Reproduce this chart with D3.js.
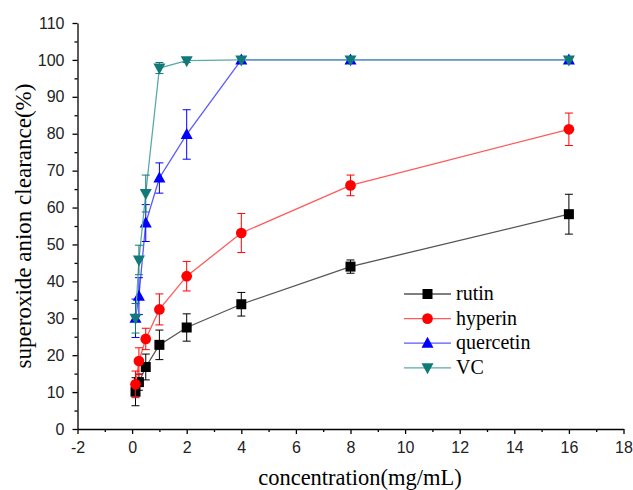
<!DOCTYPE html>
<html lang="en">
<head>
<meta charset="utf-8">
<title>Superoxide anion clearance</title>
<script src="https://cdn.jsdelivr.net/npm/d3@7"></script>
<style>
  body { margin: 0; background: #fff; }
  .serif { font-family: "Liberation Serif", "Times New Roman", serif; }
</style>
</head>
<body>
<script>
// concentrations (mg/mL)
var conc = [0.125, 0.25, 0.5, 1, 2, 4, 8, 16];

// clearance (%) and error per series
var rutin      = [10.1, 12.7, 16.8, 22.8, 27.5, 33.8, 44.0, 58.2];
var rutinErr   = [3.8, 2.2, 3.5, 4.0, 3.7, 3.2, 1.8, 5.4];
var hyperin    = [12.1, 18.4, 24.4, 32.4, 41.4, 53.1, 66.0, 81.2];
var hyperinErr = [3.6, 3.6, 2.9, 4.2, 4.0, 5.3, 2.8, 4.4];
var quercetin    = [30.0, 36.0, 55.8, 68.0, 79.8, 100, 100, 100];
var quercetinErr = [5.2, 5.0, 5.0, 4.1, 6.7, 0, 0, 0];
var vc    = [30.0, 45.8, 63.8, 97.8, 99.8, 100, 100, 100];
var vcErr = [4.0, 4.0, 5.0, 1.5, 0.5, 0, 0, 0];

var seriesNames = ["rutin", "hyperin", "quercetin", "VC"];
var xTicks = [-2, 0, 2, 4, 6, 8, 10, 12, 14, 16, 18];
var yTicks = [0, 10, 20, 30, 40, 50, 60, 70, 80, 90, 100, 110];

var series = [
  {y: rutin, e: rutinErr, line: "#555", mark: "#000", sym: "square"},
  {y: hyperin, e: hyperinErr, line: "#ff5a5a", mark: "#ff0000", sym: "circle"},
  {y: quercetin, e: quercetinErr, line: "#5a5aff", mark: "#0000ff", sym: "up"},
  {y: vc, e: vcErr, line: "#5aaaa8", mark: "#117a78", sym: "down"}
];

var w = 633, h = 490;
var svg = d3.select("body").append("svg").attr("width", w).attr("height", h);

var x = d3.scaleLinear().domain([-2, 18]).range([77.5, 623.5]);
var y = d3.scaleLinear().domain([0, 110]).range([429, 23]);
var plain = function(d) { return String(d); };

// axes
var xAxis = svg.append("g").attr("transform", "translate(0," + y(0) + ")")
  .call(d3.axisBottom(x).tickValues(xTicks).tickFormat(plain)
    .tickSize(5).tickPadding(8).tickSizeOuter(0));
svg.append("g").attr("transform", "translate(0," + y(0) + ")")
  .call(d3.axisBottom(x).tickValues(d3.range(-1, 18, 2)).tickSize(3).tickFormat(""))
  .select(".domain").remove();
var yAxis = svg.append("g").attr("transform", "translate(" + x(-2) + ",0)")
  .call(d3.axisLeft(y).tickValues(yTicks).tickFormat(plain)
    .tickSize(5).tickPadding(8).tickSizeOuter(0));
svg.append("g").attr("transform", "translate(" + x(-2) + ",0)")
  .call(d3.axisLeft(y).tickValues(d3.range(5, 110, 10)).tickSize(3).tickFormat(""))
  .select(".domain").remove();

svg.selectAll(".tick text")
  .attr("font-family", "Liberation Sans, Arial, sans-serif")
  .attr("font-size", "16px")
  .attr("fill", "#222");
svg.selectAll(".domain, .tick line").attr("stroke", "#000").attr("stroke-width", 1.3);

svg.append("text").attr("class", "serif")
  .attr("x", 360).attr("y", 485)
  .attr("font-size", "22.5px")
  .attr("text-anchor", "middle")
  .text("concentration(mg/mL)");
svg.append("text").attr("class", "serif")
  .attr("font-size", "23px")
  .attr("transform", "translate(31," + y(55) + ") rotate(-90)")
  .attr("text-anchor", "middle")
  .text("superoxide anion clearance(%)");

function symbolPath(sym) {
  if (sym === "square") return "M-5,-5H5V5H-5Z";
  if (sym === "circle") return d3.symbol(d3.symbolCircle, 90)();
  if (sym === "up") return "M0,-6.5L6,4.5H-6Z";
  return "M0,6.5L6,-4.5H-6Z";
}

var line = d3.line().x(function(d) { return x(d[0]); }).y(function(d) { return y(d[1]); });

series.forEach(function(s) {
  var pts = conc.map(function(c, i) { return [c, s.y[i], s.e[i]]; });
  var g = svg.append("g");
  g.append("path").datum(pts)
    .attr("d", line).attr("fill", "none")
    .attr("stroke", s.line).attr("stroke-width", 1.3);
  var eb = g.selectAll(".err").data(pts.filter(function(d) { return d[2] > 0; }))
    .enter().append("g").attr("stroke", s.mark).attr("stroke-width", 1);
  eb.append("line")
    .attr("x1", function(d) { return x(d[0]); }).attr("x2", function(d) { return x(d[0]); })
    .attr("y1", function(d) { return y(d[1] + d[2]); }).attr("y2", function(d) { return y(d[1] - d[2]); });
  [1, -1].forEach(function(sg) {
    eb.append("line")
      .attr("x1", function(d) { return x(d[0]) - 4; }).attr("x2", function(d) { return x(d[0]) + 4; })
      .attr("y1", function(d) { return y(d[1] + sg * d[2]); }).attr("y2", function(d) { return y(d[1] + sg * d[2]); });
  });
  g.selectAll(".mk").data(pts).enter().append("path")
    .attr("d", symbolPath(s.sym))
    .attr("transform", function(d) { return "translate(" + x(d[0]) + "," + y(d[1]) + ")"; })
    .attr("fill", s.mark);
});

// legend
var lg = svg.append("g").attr("transform", "translate(404,294)");
series.forEach(function(s, i) {
  var r = lg.append("g").attr("transform", "translate(0," + i * 24.6 + ")");
  r.append("line").attr("x1", 0).attr("x2", 47).attr("stroke", s.line).attr("stroke-width", 1.3);
  r.append("path").attr("d", symbolPath(s.sym)).attr("transform", "translate(23.5,0)").attr("fill", s.mark);
  r.append("text").attr("class", "serif").attr("x", 52).attr("y", 6)
    .attr("font-size", "20px")
    .text(seriesNames[i]);
});
</script>
</body>
</html>
